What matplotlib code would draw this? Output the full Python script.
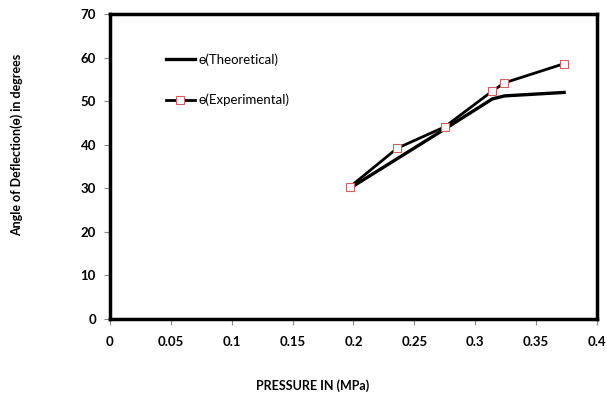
import matplotlib
matplotlib.use("Agg")
import matplotlib.pyplot as plt

pressure = [0.197, 0.236, 0.275, 0.314, 0.324, 0.373]
theta_theoretical = [30.0, 36.8, 43.6, 50.5, 51.2, 52.0]
theta_experimental = [30.3, 39.2, 44.1, 52.3, 54.2, 58.6]
x_ticks = [0, 0.05, 0.1, 0.15, 0.2, 0.25, 0.3, 0.35, 0.4]
x_tick_labels = ["0", "0.05", "0.1", "0.15", "0.2", "0.25", "0.3", "0.35", "0.4"]
y_ticks = [0, 10, 20, 30, 40, 50, 60, 70]

fam = ["Lato", "DejaVu Sans"]
plt.rcParams['font.family'] = fam

fig = plt.figure(figsize=(6.07, 4.0), dpi=100)
ax = fig.add_axes([0.181, 0.2025, 0.8025, 0.7625])

ax.plot(pressure, theta_theoretical, color="black", lw=2.4, label="ɵ(Theoretical)")
ax.plot(pressure, theta_experimental, color="black", lw=2.0, marker="s", ms=6,
        markerfacecolor="white", markeredgecolor="#d06060", markeredgewidth=0.8,
        label="ɵ(Experimental)")

ax.set_xlim(0, 0.4)
ax.set_ylim(0, 70)
ax.set_xticks(x_ticks)
ax.set_xticklabels(x_tick_labels)
ax.set_yticks(y_ticks)
for lab in ax.get_xticklabels() + ax.get_yticklabels():
    lab.set_fontweight("bold")
    lab.set_fontsize(9.5)
ax.tick_params(axis="both", direction="out", length=4, width=0.8, color="#888888")
ax.tick_params(axis="x", pad=8)
ax.tick_params(axis="y", pad=6)
for s in ax.spines.values():
    s.set_linewidth(2.5)
    s.set_color("black")

fig.text(0.515, 0.035, "PRESSURE IN (MPa)", ha="center", va="center",
         fontsize=9, fontweight="bold")
fig.text(0.028, 0.637, "Angle of Deflection(ɵ) in degrees", ha="center", va="center",
         rotation=90, fontsize=9, fontweight="bold")

leg = ax.legend(loc="upper left", bbox_to_anchor=(0.09, 0.91), frameon=False,
                fontsize=9.5, handlelength=2.2, handletextpad=0.3, labelspacing=2.1)

fig.savefig("out.png", dpi=100, facecolor="white")
